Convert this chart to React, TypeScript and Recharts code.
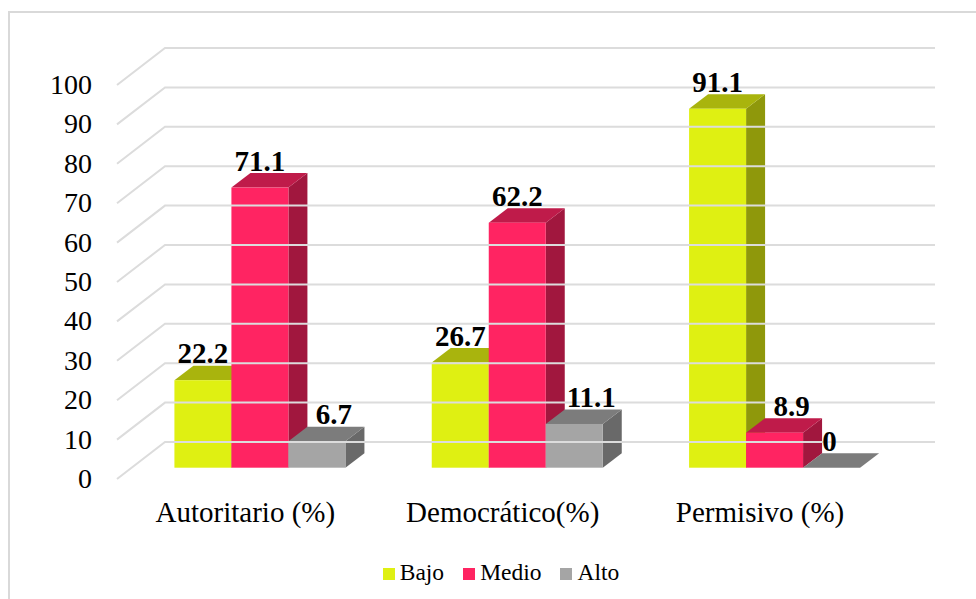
import { Bar, BarChart, LabelList, Legend, XAxis, YAxis } from "recharts";

const categories = ["Autoritario (%)", "Democrático(%)", "Permisivo (%)"];
const bajo = [22.2, 26.7, 91.1];
const medio = [71.1, 62.2, 8.9];
const alto = [6.7, 11.1, 0];
const yTicks = [0, 10, 20, 30, 40, 50, 60, 70, 80, 90, 100];

const data = categories.map((name, i) => ({
  name,
  Bajo: bajo[i],
  Medio: medio[i],
  Alto: alto[i],
}));

const FONT = '"Liberation Serif", "Times New Roman", serif';
const DEPTH_X = 19;
const DEPTH_Y = 14.5;

function WallTick({ y, payload }: any) {
  const front = y + 11.3;
  const back = y - 25.7;
  return (
    <g>
      <polyline
        points={`117,${front} 165,${back} 935,${back}`}
        fill="none"
        stroke="#dcdcdc"
        strokeWidth={2}
      />
      <text x={92} y={front + 9} textAnchor="end" fontSize={28} fontFamily={FONT} fill="#000">
        {payload.value}
      </text>
    </g>
  );
}

function CategoryTick({ x, y, payload }: any) {
  return (
    <text x={x - 15} y={y + 46} textAnchor="middle" fontSize={29} fontFamily={FONT} fill="#000">
      {payload.value}
    </text>
  );
}

function Box3D({ x, y, width, height, fill, topFill, sideFill }: any) {
  const r = x + width;
  const b = y + height;
  return (
    <g>
      <polygon
        points={`${r},${y} ${r + DEPTH_X},${y - DEPTH_Y} ${r + DEPTH_X},${b - DEPTH_Y} ${r},${b}`}
        fill={sideFill}
      />
      <polygon
        points={`${x},${y} ${x + DEPTH_X},${y - DEPTH_Y} ${r + DEPTH_X},${y - DEPTH_Y} ${r},${y}`}
        fill={topFill}
      />
      <rect x={x} y={y} width={width} height={height} fill={fill} />
    </g>
  );
}

// data labels sit over the bar, the ones next to a taller bar get pushed right
function labelShift(value: number, index: number) {
  if (value === 0) return -2;
  if (value === alto[index] || (value === medio[index] && index === 2)) return 17;
  return 0;
}

function BarLabel({ x, y, width, value, index }: any) {
  return (
    <text
      x={x + width / 2 + labelShift(value, index)}
      y={y - 17}
      textAnchor="middle"
      fontSize={29}
      fontWeight="bold"
      fontFamily={FONT}
      fill="#000"
    >
      {value}
    </text>
  );
}

function LegendRow({ payload }: any) {
  return (
    <div style={{ display: "flex", justifyContent: "center", alignItems: "baseline", fontFamily: FONT, fontSize: 23.5, lineHeight: "26px" }}>
      {(payload || []).map((item: any) => (
        <span key={item.value} style={{ display: "inline-flex", alignItems: "baseline", marginRight: 19, color: "#000" }}>
          <span style={{ display: "inline-block", width: 12, height: 12, background: item.color, marginRight: 5 }} />
          {item.value}
        </span>
      ))}
    </div>
  );
}

export default function App() {
  return (
    <div style={{ position: "absolute", left: 0, top: 0, width: 976, height: 599, background: "#fff" }}>
      <div
        style={{
          position: "absolute",
          left: 8,
          top: 11,
          width: 968,
          height: 588,
          borderLeft: "2px solid #d9d9d9",
          borderTop: "2px solid #d9d9d9",
          boxSizing: "border-box",
        }}
      />
      <div style={{ position: "absolute", left: 0, top: 0 }}>
        <BarChart
          width={976}
          height={599}
          data={data}
          margin={{ top: 73.7, right: 72.3, bottom: 0, left: 0 }}
          barCategoryGap="16.6%"
          barGap={0}
        >
          <YAxis
            width={131.7}
            domain={[0, 100]}
            ticks={yTicks}
            interval={0}
            axisLine={false}
            tickLine={false}
            tick={<WallTick />}
          />
          <XAxis
            dataKey="name"
            height={105.3}
            axisLine={false}
            tickLine={false}
            tick={<CategoryTick />}
          />
          <Legend
            verticalAlign="bottom"
            itemSorter={null}
            content={<LegendRow />}
            wrapperStyle={{ left: 0, width: 1021, bottom: 14 }}
          />
          <Bar
            dataKey="Bajo"
            fill="#dff012"
            isAnimationActive={false}
            shape={<Box3D topFill="#a9b40d" sideFill="#8f980b" />}
          >
            <LabelList dataKey="Bajo" content={<BarLabel />} />
          </Bar>
          <Bar
            dataKey="Medio"
            fill="#ff2462"
            isAnimationActive={false}
            shape={<Box3D topFill="#bf1b4a" sideFill="#a1173e" />}
          >
            <LabelList dataKey="Medio" content={<BarLabel />} />
          </Bar>
          <Bar
            dataKey="Alto"
            fill="#a5a5a5"
            isAnimationActive={false}
            shape={<Box3D topFill="#7c7c7c" sideFill="#696969" />}
          >
            <LabelList dataKey="Alto" content={<BarLabel />} />
          </Bar>
        </BarChart>
      </div>
    </div>
  );
}
